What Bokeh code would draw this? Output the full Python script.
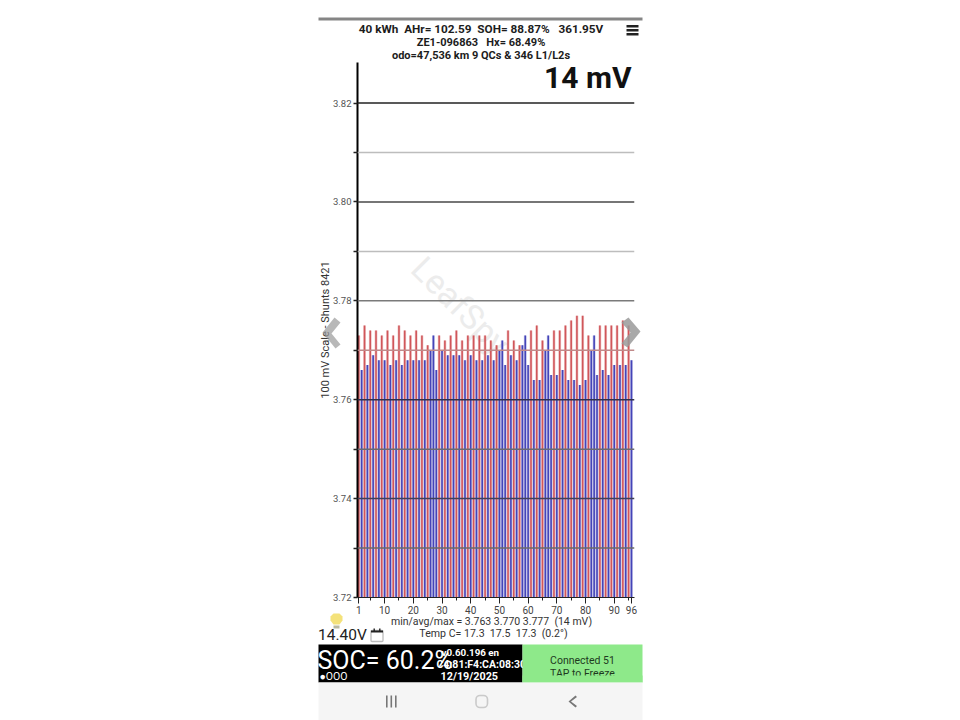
from bokeh.plotting import figure
from bokeh.models import (Range1d, FixedTicker, Label, BoxAnnotation, PolyAnnotation, Span,
                          ColumnDataSource)
from bokeh.embed import file_html
from bokeh.resources import INLINE

# ---- data ----
cell_numbers = list(range(1, 97))
cell_voltage = [
    3.773, 3.766, 3.775, 3.767, 3.774, 3.769, 3.774, 3.768, 3.773, 3.768, 3.774, 3.767,
    3.773, 3.768, 3.775, 3.767, 3.774, 3.768, 3.773, 3.768, 3.774, 3.768, 3.773, 3.768,
    3.771, 3.770, 3.773, 3.766, 3.773, 3.770, 3.772, 3.769, 3.773, 3.769, 3.774, 3.769,
    3.772, 3.768, 3.773, 3.769, 3.773, 3.768, 3.773, 3.768, 3.773, 3.769, 3.772, 3.768,
    3.771, 3.770, 3.772, 3.767, 3.774, 3.769, 3.772, 3.768, 3.771, 3.771, 3.773, 3.767,
    3.774, 3.764, 3.775, 3.764, 3.772, 3.770, 3.773, 3.765, 3.774, 3.765, 3.774, 3.766,
    3.775, 3.764, 3.776, 3.764, 3.777, 3.763, 3.777, 3.764, 3.773, 3.770, 3.773, 3.765,
    3.775, 3.766, 3.775, 3.765, 3.775, 3.767, 3.775, 3.767, 3.776, 3.767, 3.775, 3.768,
]
shunted_odd_cells = [27, 51, 59, 67, 83]
RED = "#d0565a"
BLUE = "#4444b8"
bar_colors = [BLUE if (c % 2 == 0 or c in shunted_odd_cells) else RED for c in cell_numbers]

y_major = [3.72, 3.74, 3.76, 3.78, 3.80, 3.82]
y_minor = [3.73, 3.75, 3.77, 3.79, 3.81]
x_major = [1, 10, 20, 30, 40, 50, 60, 70, 80, 90, 96]
x_minor = [5, 15, 25, 35, 45, 55, 65, 75, 85, 95]
grid_levels = [3.73, 3.74, 3.75, 3.76, 3.77, 3.78, 3.79, 3.80, 3.81, 3.82]
grid_colors = ["#6a6a6a", "#40405a", "#6a6a72", "#30304e", "#c08a8a", "#7a7a7a", "#bdbdbd", "#484848", "#bdbdbd", "#222222"]

NB = "\u00a0"
header_lines = [f"40 kWh {NB}AHr= 102.59 {NB}SOH= 88.87% {NB}{NB}361.95V",
                f"ZE1-096863 {NB}{NB}Hx= 68.49%",
                "odo=47,536 km 9 QCs & 346 L1/L2s"]
stats_lines = [f"min/avg/max = 3.763 3.770 3.777 {NB}(14 mV)",
               f"Temp C= 17.3 {NB}17.5 {NB}17.3 {NB}(0.2°)"]

W, H = 960, 720

# ---- chart ----
p = figure(width=W, height=H, output_backend="svg", toolbar_location=None,
           x_range=Range1d(0.55, 97.06), y_range=Range1d(3.72, 3.8282),
           min_border_left=357, min_border_right=W - 634,
           min_border_top=62, min_border_bottom=H - 597)
p.outline_line_color = None
p.xgrid.visible = False
p.ygrid.visible = False

ya = p.yaxis[0]
ya.ticker = FixedTicker(ticks=y_major, minor_ticks=y_minor)
ya.major_label_overrides = {v: f"{v:.2f}" for v in y_major}
ya.axis_line_color = "black"
ya.axis_line_width = 2
ya.major_tick_line_color = "#222222"
ya.minor_tick_line_color = "#222222"
ya.major_tick_in = 0
ya.major_tick_out = 4
ya.minor_tick_in = 0
ya.minor_tick_out = 4
ya.major_tick_line_width = 1.5
ya.minor_tick_line_width = 1.5
ya.major_label_standoff = 2
ya.major_label_text_font = "Roboto"
ya.major_label_text_font_size = "9.5px"
ya.major_label_text_color = "#555555"
ya.axis_label = "100 mV Scale - Shunts 8421"
ya.axis_label_text_font = "Roboto"
ya.axis_label_text_font_style = "normal"
ya.axis_label_text_font_size = "11px"
ya.axis_label_text_color = "#333333"
ya.axis_label_standoff = -2

xa = p.xaxis[0]
xa.ticker = FixedTicker(ticks=x_major, minor_ticks=x_minor)
xa.axis_line_color = "#222222"
xa.axis_line_width = 1.2
xa.major_tick_line_color = "#222222"
xa.minor_tick_line_color = "#222222"
xa.major_tick_in = 0
xa.major_tick_out = 6
xa.minor_tick_in = 0
xa.minor_tick_out = 3
xa.major_label_standoff = 2
xa.major_label_text_font = "Roboto"
xa.major_label_text_font_size = "10px"
xa.major_label_text_color = "#444444"

# watermark behind the bars (inside the frame)
p.add_layout(Label(x=417 - 357, y=597 - 262, x_units="screen", y_units="screen", text="LeafSpy",
                   text_font="Roboto", text_font_size="34px", text_color="#ececec",
                   text_baseline="middle", angle=-45, angle_units="deg", level="underlay"))

src = ColumnDataSource(dict(cell=cell_numbers, v=cell_voltage, c=bar_colors))
# soft fringe round each bar, then the bar itself
p.vbar(x="cell", top="v", bottom=3.72, width=1.0, color="c", alpha=0.3, source=src, line_color=None)
p.vbar(x="cell", top="v", bottom=3.72, width=0.55, color="c", source=src, line_color=None)

for lev, col in zip(grid_levels, grid_colors):
    p.add_layout(Span(location=lev, dimension="width", line_color=col, line_width=1.5))

# ---- transparent page-sized layer for everything round the chart ----
o = figure(width=W, height=H, output_backend="svg", toolbar_location=None,
           x_range=Range1d(0, W), y_range=Range1d(H, 0),
           min_border=0, min_border_left=0, min_border_right=0, min_border_top=0, min_border_bottom=0,
           background_fill_alpha=0, border_fill_alpha=0, outline_line_color=None)
o.xaxis.visible = False
o.yaxis.visible = False
o.xgrid.visible = False
o.ygrid.visible = False
o.styles = {"position": "absolute", "left": "0px", "top": "0px", "z-index": "5"}


def txt(x, y, s, size, color="#222222", style="normal", align="left", font="Roboto", angle=0):
    o.add_layout(Label(x=x, y=y, text=s, text_font=font, text_font_size=f"{size}px", text_color=color,
                       text_font_style=style, text_align=align, text_baseline="middle",
                       angle=angle, angle_units="deg", level="overlay"))


def box(x0, y0, x1, y1, fill, line=None, lw=1, radius=0):
    o.add_layout(BoxAnnotation(left=x0, right=x1, top=y0, bottom=y1,
                               fill_color=fill, fill_alpha=1 if fill else 0,
                               line_color=line, line_width=lw, border_radius=radius, level="overlay"))


def poly(pts, fill, alpha=1.0):
    o.add_layout(PolyAnnotation(xs=[q[0] for q in pts], ys=[q[1] for q in pts],
                                fill_color=fill, fill_alpha=alpha, line_color=None, level="overlay"))


# header
box(318, 17, 642, 20, "#858585")
txt(480.5, 28, header_lines[0], 11.75, style="bold", align="center", color="#1c1c1c")
txt(480.5, 42, header_lines[1], 11, style="bold", align="center", color="#1c1c1c")
txt(480.5, 55, header_lines[2], 11, style="bold", align="center", color="#1c1c1c")
txt(631, 77, "14 mV", 30, style="bold", align="right", color="#111111")
for yy in (24.5, 28.5, 32.5):
    box(626, yy, 638, yy + 2.4, "#222222")

# chevrons
poly([(322, 332), (334, 317), (340, 322), (331, 333), (340, 344), (335, 348)], "#9a9a9a", 0.7)
poly([(640, 331), (628, 317), (621, 322), (630, 332), (621, 343), (627, 347)], "#9a9a9a", 0.85)

# stats
txt(491, 621, stats_lines[0], 10.5, align="center", color="#333333")
txt(493, 632.5, stats_lines[1], 10.6, align="center", color="#333333")
txt(317.5, 634, "14.40V", 15.5, color="#222222")

# bulb
poly([(333, 613), (339, 613), (342, 616), (342, 620), (339, 624), (333, 624), (330, 620), (330, 616)], "#f4e27a")
box(333, 625, 339, 628, "#b9b9a0")
# calendar
box(370.5, 630, 382.5, 641, None, line="#222222", lw=1.3, radius=1)
box(370.5, 630, 382.5, 632, "#222222")
box(373, 628, 374.4, 631, "#222222")
box(378.6, 628, 380, 631, "#222222")

# status strip
box(318, 644, 522, 682, "#000000")
txt(317, 660, "SOC= 60.2%", 25, color="#ffffff")
txt(319, 675.5, "●OOO", 10.5, color="#ffffff")
txt(441, 652, "v0.60.196 en", 9.8, color="#ffffff", style="bold")
txt(436, 664, "C4:81:F4:CA:08:30", 10.5, color="#ffffff", style="bold")
txt(440, 676, "12/19/2025", 10.8, color="#ffffff", style="bold")
box(522, 644, 642, 682, "#8ee98a")
txt(582, 660, "Connected 51", 10.5, align="center", color="#1f3a1f")
txt(582, 672.5, "TAP to Freeze", 10.5, align="center", color="#1f3a1f")
box(522, 675, 642, 682, "#8ee98a")

# navigation bar
box(318, 682, 642, 720, "#f5f5f5")
for xx in (385.5, 390, 394.5):
    box(xx, 695, xx + 1.6, 707, "#777777")
box(475.5, 695, 487, 707, None, line="#666666", lw=1.6, radius=4)
poly([(575, 695), (576.5, 696.5), (570.5, 701), (576.5, 705.5), (575, 707), (568, 701)], "#777777")

open("out.html", "w").write(file_html([p, o], INLINE))
